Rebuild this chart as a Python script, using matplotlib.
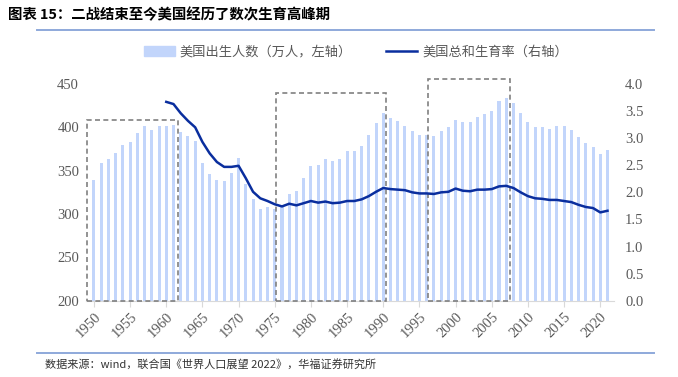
import numpy as np
import matplotlib
matplotlib.use('Agg')
import matplotlib.pyplot as plt
from matplotlib.patches import Rectangle
from matplotlib.lines import Line2D

# data
years = list(range(1950, 2022))
births = [339, 359, 364, 370, 380, 383, 393, 402, 397, 401,
          401, 403, 395, 390, 384, 359, 346, 339, 338, 347,
          365, 335, 317, 306, 308, 306, 310, 323, 327, 342,
          355, 356, 363, 361, 364, 373, 373, 379, 391, 405,
          416, 411, 407, 401, 396, 391, 391, 390, 396, 400,
          409, 406, 406, 412, 415, 419, 430, 434, 428, 417,
          406, 400, 400, 398, 402, 401, 397, 389, 382, 377,
          369, 374]
tfr_years = list(range(1960, 2022))
tfr = [3.67, 3.63, 3.46, 3.32, 3.20, 2.93, 2.72, 2.56, 2.47, 2.47,
       2.49, 2.26, 2.01, 1.89, 1.84, 1.78, 1.74, 1.79, 1.76, 1.80,
       1.84, 1.81, 1.83, 1.80, 1.81, 1.84, 1.84, 1.87, 1.93, 2.01,
       2.08, 2.06, 2.05, 2.04, 2.00, 1.98, 1.98, 1.97, 2.00, 2.01,
       2.07, 2.03, 2.02, 2.05, 2.05, 2.06, 2.11, 2.12, 2.08, 2.00,
       1.93, 1.89, 1.88, 1.86, 1.86, 1.84, 1.82, 1.77, 1.73, 1.71,
       1.63, 1.66]
# highlighted boom periods: (start year, end year, top value on left axis)
boxes = [(1949.0, 1961.6, 408), (1975.2, 1990.4, 440), (1996.2, 2007.5, 456)]

title = '图表 15：二战结束至今美国经历了数次生育高峰期'
label_births = '美国出生人数（万人，左轴）'
label_tfr = '美国总和生育率（右轴）'
source = '数据来源：wind，联合国《世界人口展望 2022》，华福证券研究所'

cjk = ['Noto Sans CJK SC', 'DejaVu Sans']
serif = 'Liberation Serif'
bar_color = '#C2D5FB'
line_color = '#0A2E9E'
tick_color = '#595959'

fig = plt.figure(figsize=(6.78, 3.77), dpi=100)
ax = fig.add_axes([0.1268, 0.2024, 0.7788, 0.5748])
ax2 = ax.twinx()

x = np.arange(len(years))
ax.bar(x, births, width=0.42, color=bar_color, zorder=1)
x_tfr = np.array([years.index(y) for y in tfr_years])
ax2.plot(x_tfr, tfr, color=line_color, lw=1.8, zorder=3)

ax.set_xlim(-1.1, 71.9)
ax.set_ylim(200, 450)
ax2.set_ylim(0, 4.0)

ax.set_yticks(np.arange(200, 451, 50))
ax2.set_yticks(np.arange(0, 4.01, 0.5))
ax2.set_yticklabels(['%.1f' % v for v in np.arange(0, 4.01, 0.5)])

tick_pos = [years.index(y) for y in range(1950, 2021, 5)]
ax.set_xticks(tick_pos)
ax.set_xticklabels([str(y) for y in range(1950, 2021, 5)], rotation=45,
                   ha='right', rotation_mode='anchor')

for a in (ax, ax2):
    for s in a.spines.values():
        s.set_visible(False)
ax.spines['bottom'].set_visible(True)
ax.spines['bottom'].set_color('#D9D9D9')

ax.tick_params(axis='y', length=0, pad=5, labelsize=10.5, labelcolor=tick_color)
ax.tick_params(axis='x', length=4, color='#D9D9D9', pad=3, labelsize=10.5,
               labelcolor=tick_color)
ax2.tick_params(axis='y', length=0, pad=8, labelsize=10.5, labelcolor=tick_color)
for lab in ax.get_xticklabels() + ax.get_yticklabels() + ax2.get_yticklabels():
    lab.set_fontfamily(serif)

for x0, x1, top in boxes:
    i0 = x0 - 1950
    i1 = x1 - 1950
    ax.add_patch(Rectangle((i0, 199.5), i1 - i0, top - 199.5, fill=False,
                           edgecolor='#808080', lw=1.2, ls=(0, (3, 2)),
                           clip_on=False, zorder=4))

handles = [Rectangle((0, 0), 1, 1, color=bar_color),
           Line2D([0], [0], color=line_color, lw=1.8)]
fig.legend(handles, [label_births, label_tfr], loc='center',
           bbox_to_anchor=(0.525, 0.862), ncol=2, frameon=False,
           prop={'family': cjk, 'size': 9.5}, labelcolor=tick_color,
           handlelength=2.3, handleheight=0.8, handletextpad=0.4,
           columnspacing=2.6)

fig.text(0.012, 0.96, title, family=cjk, fontsize=10.4, fontweight='bold',
         va='center', ha='left', color='black')
fig.add_artist(Line2D([36.7 / 678, 654 / 678], [1 - 29.7 / 377] * 2,
                      color='#8EA9DB', lw=1.4))
fig.add_artist(Line2D([36.7 / 678, 654 / 678], [1 - 352.5 / 377] * 2,
                      color='#8EA9DB', lw=1.4))
fig.text(0.066, 1 - 364 / 377, source, family=cjk, fontsize=8,
         va='center', ha='left', color='#333333')

fig.savefig('out.png', dpi=100)
